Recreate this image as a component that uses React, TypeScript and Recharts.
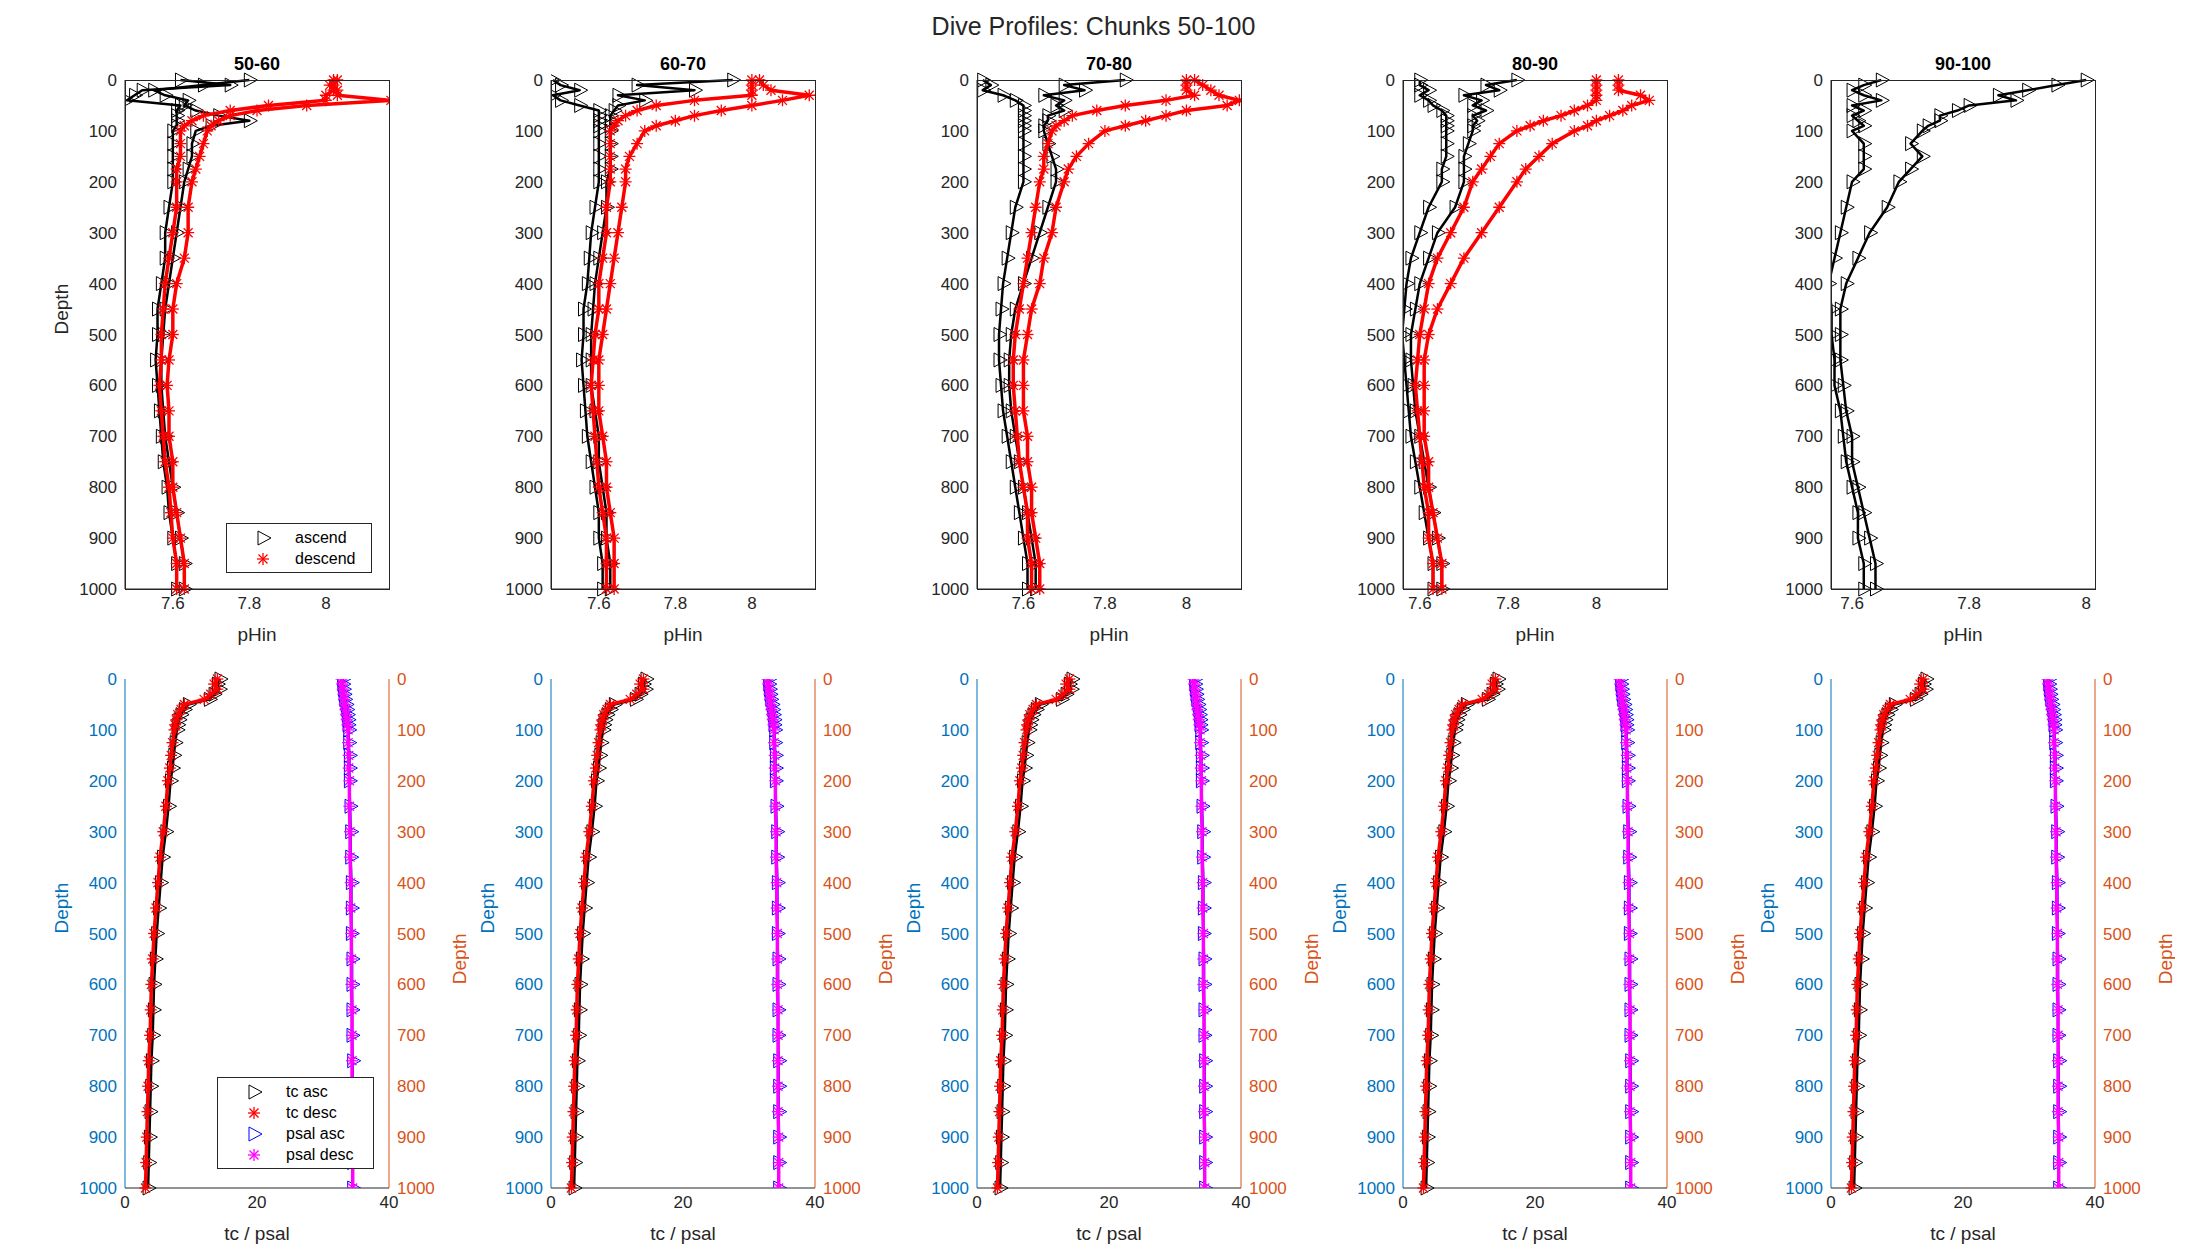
import React from "react";
import { ScatterChart, Scatter, XAxis, YAxis } from "recharts";

const depths = [0, 10, 20, 30, 40, 50, 60, 70, 80, 90, 100, 125, 150, 175, 200, 250, 300, 350, 400, 450, 500, 550, 600, 650, 700, 750, 800, 850, 900, 950, 1000];
const depthTicks = [0, 100, 200, 300, 400, 500, 600, 700, 800, 900, 1000];
const chunkTitles = ["50-60", "60-70", "70-80", "80-90", "90-100"];
const phDomains = [[7.475, 8.165], [7.475, 8.165], [7.486, 8.134], [7.562, 8.16], [7.564, 8.015]];
const phTicks = [7.6, 7.8, 8];

// two envelope dives per series
const ascA = [
  [7.62, 7.75, 7.52, 7.5, 7.48, 7.62, 7.61, 7.61, 7.61, 7.61, 7.6, 7.6, 7.6, 7.6, 7.6, 7.59, 7.58, 7.58, 7.57, 7.56, 7.56, 7.555, 7.56, 7.565, 7.57, 7.575, 7.585, 7.59, 7.6, 7.61, 7.61],
  [7.48, 7.5, 7.55, 7.48, 7.5, 7.55, 7.6, 7.6, 7.6, 7.6, 7.6, 7.6, 7.6, 7.6, 7.6, 7.59, 7.58, 7.575, 7.57, 7.56, 7.56, 7.555, 7.56, 7.565, 7.57, 7.58, 7.59, 7.6, 7.6, 7.61, 7.61],
  [7.5, 7.52, 7.5, 7.55, 7.58, 7.6, 7.6, 7.6, 7.6, 7.6, 7.6, 7.6, 7.6, 7.6, 7.6, 7.58, 7.57, 7.56, 7.55, 7.545, 7.54, 7.54, 7.545, 7.55, 7.56, 7.57, 7.58, 7.59, 7.6, 7.61, 7.61],
  [7.6, 7.6, 7.62, 7.6, 7.62, 7.63, 7.65, 7.66, 7.66, 7.66, 7.66, 7.66, 7.66, 7.65, 7.65, 7.62, 7.6, 7.58, 7.57, 7.565, 7.56, 7.565, 7.57, 7.575, 7.58, 7.59, 7.6, 7.61, 7.62, 7.63, 7.63],
  [7.65, 7.62, 7.6, 7.62, 7.65, 7.6, 7.62, 7.6, 7.61, 7.62, 7.6, 7.62, 7.62, 7.62, 7.6, 7.59, 7.58, 7.57, 7.56, 7.565, 7.565, 7.57, 7.57, 7.58, 7.585, 7.59, 7.6, 7.61, 7.61, 7.62, 7.62],
];
const ascB = [
  [7.8, 7.68, 7.55, 7.58, 7.64, 7.63, 7.66, 7.72, 7.8, 7.7, 7.66, 7.65, 7.65, 7.64, 7.63, 7.62, 7.61, 7.6, 7.59, 7.58, 7.575, 7.57, 7.57, 7.575, 7.58, 7.59, 7.6, 7.61, 7.62, 7.63, 7.63],
  [7.95, 7.7, 7.85, 7.65, 7.72, 7.65, 7.64, 7.63, 7.63, 7.63, 7.63, 7.63, 7.63, 7.63, 7.62, 7.62, 7.61, 7.6, 7.59, 7.585, 7.58, 7.58, 7.58, 7.59, 7.6, 7.6, 7.61, 7.62, 7.62, 7.63, 7.63],
  [7.85, 7.7, 7.75, 7.65, 7.7, 7.68, 7.7, 7.66, 7.66, 7.65, 7.65, 7.66, 7.67, 7.68, 7.68, 7.66, 7.64, 7.62, 7.6, 7.58, 7.57, 7.565, 7.565, 7.57, 7.58, 7.59, 7.6, 7.61, 7.62, 7.63, 7.63],
  [7.82, 7.75, 7.78, 7.7, 7.74, 7.72, 7.75, 7.72, 7.73, 7.72, 7.72, 7.71, 7.7, 7.7, 7.7, 7.68, 7.64, 7.62, 7.6, 7.59, 7.58, 7.58, 7.585, 7.59, 7.6, 7.61, 7.62, 7.63, 7.64, 7.65, 7.65],
  [8.0, 7.95, 7.9, 7.85, 7.88, 7.8, 7.78, 7.75, 7.75, 7.73, 7.72, 7.7, 7.72, 7.7, 7.68, 7.66, 7.63, 7.61, 7.59, 7.58, 7.58, 7.58, 7.585, 7.59, 7.6, 7.6, 7.61, 7.62, 7.63, 7.64, 7.64],
];
const descA = [
  [8.02, 8.01, 8.02, 8.0, 8.0, 7.85, 7.75, 7.68, 7.65, 7.63, 7.62, 7.62, 7.62, 7.61, 7.61, 7.61, 7.6, 7.59, 7.58, 7.575, 7.57, 7.57, 7.565, 7.57, 7.575, 7.58, 7.59, 7.595, 7.6, 7.61, 7.61],
  [8.0, 8.0, 8.0, 8.0, 7.85, 7.75, 7.7, 7.67, 7.65, 7.64, 7.63, 7.63, 7.63, 7.63, 7.63, 7.62, 7.62, 7.61, 7.6, 7.6, 7.59, 7.585, 7.58, 7.585, 7.59, 7.595, 7.6, 7.61, 7.62, 7.62, 7.62],
  [8.0, 8.0, 8.0, 8.02, 7.95, 7.85, 7.78, 7.72, 7.7, 7.68, 7.67, 7.66, 7.65, 7.65, 7.64, 7.63, 7.62, 7.61, 7.6, 7.59, 7.58, 7.575, 7.575, 7.58, 7.585, 7.59, 7.6, 7.61, 7.61, 7.62, 7.62],
  [8.0, 8.0, 8.0, 8.0, 8.0, 7.98, 7.95, 7.92, 7.88, 7.85, 7.82, 7.78, 7.76, 7.74, 7.72, 7.7, 7.67, 7.64, 7.62, 7.61, 7.6, 7.595, 7.59, 7.595, 7.6, 7.605, 7.61, 7.62, 7.62, 7.63, 7.63],
  [],
];
const descB = [
  [8.03, 8.02, 8.03, 8.03, 8.17, 7.95, 7.82, 7.75, 7.72, 7.7, 7.69, 7.68, 7.67, 7.66, 7.65, 7.64, 7.64, 7.63, 7.61, 7.6, 7.6, 7.59, 7.585, 7.59, 7.59, 7.6, 7.6, 7.61, 7.62, 7.63, 7.63],
  [8.02, 8.03, 8.05, 8.15, 8.08, 8.0, 7.92, 7.85, 7.8, 7.75, 7.72, 7.7, 7.68, 7.67, 7.67, 7.66, 7.65, 7.64, 7.63, 7.62, 7.61, 7.6, 7.6, 7.6, 7.61, 7.62, 7.62, 7.63, 7.64, 7.64, 7.64],
  [8.02, 8.04, 8.06, 8.08, 8.13, 8.1, 8.0, 7.95, 7.9, 7.85, 7.8, 7.76, 7.73, 7.71, 7.7, 7.68, 7.67, 7.65, 7.64, 7.62, 7.61, 7.6, 7.6, 7.6, 7.61, 7.61, 7.62, 7.62, 7.63, 7.64, 7.64],
  [8.05, 8.05, 8.05, 8.1, 8.12, 8.08, 8.06, 8.03, 8.0, 7.98, 7.95, 7.9, 7.87, 7.84, 7.82, 7.78, 7.74, 7.7, 7.67, 7.64, 7.62, 7.61, 7.61, 7.61, 7.61, 7.62, 7.62, 7.63, 7.64, 7.65, 7.65],
  [],
];

const tcDesc = [14, 13.5, 14, 13, 12, 9, 8.5, 8, 7.8, 7.6, 7.5, 7.2, 7, 6.8, 6.5, 6.2, 5.8, 5.3, 5, 4.7, 4.4, 4.2, 4, 3.9, 3.8, 3.6, 3.5, 3.4, 3.3, 3.2, 3.1];
const tcAsc = [14.4, 14, 14.3, 13.5, 12.8, 9.6, 9, 8.5, 8.2, 8, 7.9, 7.6, 7.4, 7.2, 6.9, 6.6, 6.2, 5.7, 5.4, 5.1, 4.8, 4.6, 4.4, 4.3, 4.2, 4, 3.9, 3.8, 3.7, 3.6, 3.5];
const psalAsc = [33, 33, 33.1, 33.2, 33.3, 33.5, 33.6, 33.7, 33.8, 33.8, 33.9, 33.9, 34, 34, 34, 34.1, 34.2, 34.2, 34.3, 34.3, 34.3, 34.4, 34.4, 34.4, 34.4, 34.5, 34.5, 34.5, 34.5, 34.5, 34.5];
const psalDesc = [32.8, 32.9, 33, 33.1, 33.2, 33.3, 33.4, 33.5, 33.6, 33.7, 33.8, 33.8, 33.9, 33.9, 34, 34, 34.1, 34.1, 34.2, 34.2, 34.3, 34.3, 34.3, 34.4, 34.4, 34.4, 34.4, 34.4, 34.5, 34.5, 34.5];

const PLOT_LEFTS = [125, 551, 977, 1403, 1831];
const PW = 264;
const PH = 509;
const TOP_Y = 80;
const BOT_Y = 679;
const YW = 80;
const XH = 60;
const MT = 14;
const FONT = "Liberation Sans, Arial, sans-serif";
const BLUE = "#0072BD";
const ORANGE = "#D95319";

const pts = (xs: number[]) => xs.map((x, i) => ({ x, y: depths[i] }));

const tri = (color: string) => (p: any) => (
  <path d={`M${p.cx - 5},${p.cy - 7} L${p.cx + 8},${p.cy} L${p.cx - 5},${p.cy + 7} Z`} fill="none" stroke={color} strokeWidth={1} />
);
const star = (color: string) => (p: any) => (
  <g stroke={color} strokeWidth={1.3}>
    <line x1={p.cx - 6} y1={p.cy} x2={p.cx + 6} y2={p.cy} />
    <line x1={p.cx} y1={p.cy - 6} x2={p.cx} y2={p.cy + 6} />
    <line x1={p.cx - 4.5} y1={p.cy - 4.5} x2={p.cx + 4.5} y2={p.cy + 4.5} />
    <line x1={p.cx - 4.5} y1={p.cy + 4.5} x2={p.cx + 4.5} y2={p.cy - 4.5} />
  </g>
);
const band = (c: string, w: number) => ({ stroke: c, strokeWidth: w, strokeLinejoin: "round" as const });

const tickStyle = (c: string) => ({ fill: c, fontSize: 17, fontFamily: FONT });

function TopPanel({ i }: { i: number }) {
  const left = PLOT_LEFTS[i];
  return (
    <>
      <div style={{ position: "absolute", left, top: TOP_Y - 26, width: PW, textAlign: "center", fontWeight: "bold", fontSize: 18, fontFamily: FONT }}>
        {chunkTitles[i]}
      </div>
      <div style={{ position: "absolute", left: left - YW, top: TOP_Y - MT }}>
        <ScatterChart width={PW + 2 * YW} height={PH + XH + MT} margin={{ top: MT, right: YW, bottom: 0, left: 0 }}>
          <XAxis type="number" dataKey="x" domain={phDomains[i]} ticks={phTicks} allowDataOverflow height={XH} tick={tickStyle("#262626")} tickLine={false} stroke="#262626"
            label={{ value: "pHin", position: "insideBottom", offset: 8, fill: "#262626", fontSize: 19, fontFamily: FONT }} />
          <YAxis type="number" dataKey="y" domain={[0, 1000]} ticks={depthTicks} reversed width={YW} tick={tickStyle("#262626")} tickLine={false} stroke="#262626"
            label={i === 0 ? { value: "Depth", angle: -90, position: "insideLeft", offset: 16, fill: "#262626", fontSize: 19, fontFamily: FONT } : undefined} />
          <Scatter data={pts(ascA[i])} shape={tri("#000")} line={band("#000", 2.5)} isAnimationActive={false} />
          <Scatter data={pts(ascB[i])} shape={tri("#000")} line={band("#000", 2.5)} isAnimationActive={false} />
          {descA[i].length > 0 && <Scatter data={pts(descA[i])} shape={star("#FF0000")} line={band("#FF0000", 3.5)} isAnimationActive={false} />}
          {descB[i].length > 0 && <Scatter data={pts(descB[i])} shape={star("#FF0000")} line={band("#FF0000", 3.5)} isAnimationActive={false} />}
        </ScatterChart>
      </div>
      <div style={{ position: "absolute", left, top: TOP_Y, width: PW - 1, height: PH - 1, border: "1px solid #262626", pointerEvents: "none" }} />
    </>
  );
}

function BottomPanel({ i }: { i: number }) {
  const left = PLOT_LEFTS[i];
  return (
    <div style={{ position: "absolute", left: left - YW, top: BOT_Y - MT }}>
      <ScatterChart width={PW + 2 * YW} height={PH + XH + MT} margin={{ top: MT, right: 0, bottom: 0, left: 0 }}>
        <XAxis type="number" dataKey="x" domain={[0, 40]} ticks={[0, 20, 40]} height={XH} tick={tickStyle("#262626")} tickLine={false} stroke="#262626"
          label={{ value: "tc / psal", position: "insideBottom", offset: 8, fill: "#262626", fontSize: 19, fontFamily: FONT }} />
        <YAxis yAxisId="l" type="number" dataKey="y" domain={[0, 1000]} ticks={depthTicks} reversed width={YW} tick={tickStyle(BLUE)} tickLine={false} stroke={BLUE}
          label={{ value: "Depth", angle: -90, position: "insideLeft", offset: 16, fill: BLUE, fontSize: 19, fontFamily: FONT }} />
        <YAxis yAxisId="r" orientation="right" type="number" dataKey="y" domain={[0, 1000]} ticks={depthTicks} reversed allowDataOverflow width={YW} tick={tickStyle(ORANGE)} tickLine={false} stroke={ORANGE}
          label={{ value: "Depth", angle: -90, position: "insideRight", offset: 10, fill: ORANGE, fontSize: 19, fontFamily: FONT }} />
        <Scatter yAxisId="l" data={pts(tcAsc)} shape={tri("#000")} line={band("#000", 2.5)} isAnimationActive={false} />
        <Scatter yAxisId="l" data={pts(tcDesc)} shape={star("#FF0000")} line={band("#FF0000", 3.5)} isAnimationActive={false} />
        <Scatter yAxisId="r" data={pts(psalAsc)} shape={tri("#0000FF")} line={band("#0000FF", 2.5)} isAnimationActive={false} />
        <Scatter yAxisId="r" data={pts(psalDesc)} shape={star("#FF00FF")} line={band("#FF00FF", 3.5)} isAnimationActive={false} />
      </ScatterChart>
    </div>
  );
}

function LegendBox({ left, top, width, items }: { left: number; top: number; width: number; items: { label: string; color: string; kind: string }[] }) {
  return (
    <div style={{ position: "absolute", left, top, width, background: "#fff", border: "1px solid #262626", fontFamily: FONT, fontSize: 16, padding: "3px 0" }}>
      {items.map((it) => (
        <div key={it.label} style={{ display: "flex", alignItems: "center", height: 21 }}>
          <svg width={56} height={20}>
            {it.kind === "tri" ? tri(it.color)({ cx: 36, cy: 10 }) : star(it.color)({ cx: 36, cy: 10 })}
          </svg>
          <span style={{ marginLeft: 12 }}>{it.label}</span>
        </div>
      ))}
    </div>
  );
}

export default function App() {
  return (
    <div style={{ position: "absolute", left: 0, top: 0, width: 2187, height: 1250, background: "#fff" }}>
      <div style={{ position: "absolute", left: 0, top: 12, width: 2187, textAlign: "center", fontSize: 25, fontFamily: FONT, color: "#262626" }}>
        Dive Profiles: Chunks 50-100
      </div>
      {PLOT_LEFTS.map((_, i) => <TopPanel key={"t" + i} i={i} />)}
      {PLOT_LEFTS.map((_, i) => <BottomPanel key={"b" + i} i={i} />)}
      <LegendBox left={226} top={523} width={144} items={[
        { label: "ascend", color: "#000", kind: "tri" },
        { label: "descend", color: "#FF0000", kind: "star" },
      ]} />
      <LegendBox left={217} top={1077} width={155} items={[
        { label: "tc asc", color: "#000", kind: "tri" },
        { label: "tc desc", color: "#FF0000", kind: "star" },
        { label: "psal asc", color: "#0000FF", kind: "tri" },
        { label: "psal desc", color: "#FF00FF", kind: "star" },
      ]} />
    </div>
  );
}
